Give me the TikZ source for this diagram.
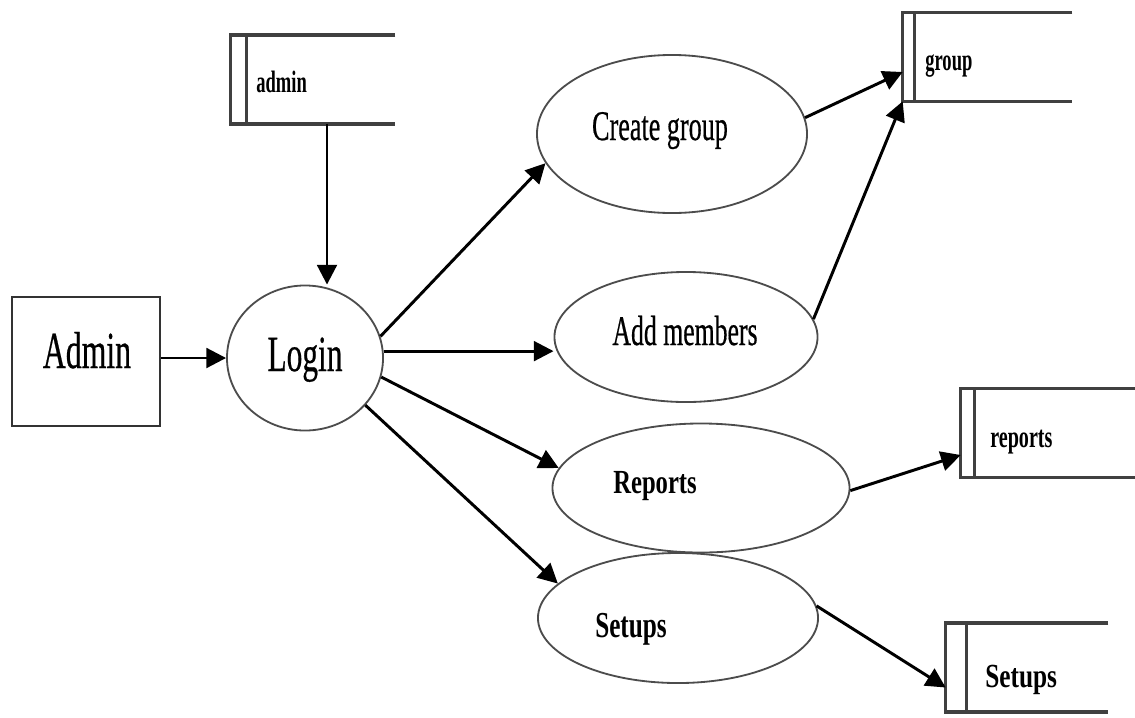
\documentclass[tikz,border=0pt]{standalone}
\usepackage{fontspec}
\setmainfont{Liberation Serif}
\newfontfamily\heavyserif[FakeBold=0.6]{Liberation Serif}
\usepackage{graphicx}
\usetikzlibrary{arrows.meta}
\usetikzlibrary{shapes.geometric}

\newcommand{\cnd}[2]{\scalebox{#1}[1]{#2}}

\tikzset{
  proc/.style={draw=black!70, line width=1.3pt, ellipse, inner sep=0pt},
  entity/.style={draw=black!80, line width=1.7pt, rectangle, inner sep=0pt},
  store/.style={rectangle, inner sep=0pt, minimum height=2.2cm},
  storeline/.style={draw=black!75, line width=2.5pt},
  flow/.style={draw=black, line width=2.1pt, -{Triangle[length=14pt,width=14pt]}},
  txt/.style={inner sep=0pt, anchor=base},
  stxt/.style={inner sep=0pt, anchor=base west, font=\fontsize{22}{24}\selectfont\bfseries},
}

\begin{document}
\begin{tikzpicture}[x=0.025cm, y=-0.025cm]
  \useasboundingbox (0,0) rectangle (1135,717);

  % external entity and processes
  \node[entity, minimum width=3.7cm, minimum height=3.225cm] (admin) at (86,361.5) {};
  \node[proc, minimum width=3.9cm, minimum height=3.625cm] (login) at (305,358) {};
  \node[proc, minimum width=6.75cm, minimum height=3.95cm] (create) at (672,134) {};
  \node[proc, minimum width=6.575cm, minimum height=3.25cm] (addmem) at (686,337) {};
  \node[proc, minimum width=7.425cm, minimum height=3.225cm] (reports) at (701,488) {};
  \node[proc, minimum width=7.0cm, minimum height=3.25cm] (setups) at (678,618) {};

  \node[txt, font=\fontsize{37}{40}\heavyserif] (admintxt) at (87,368) {\cnd{0.61}{Admin}};
  \node[txt, font=\fontsize{36}{40}\heavyserif] (logintxt) at (305,371) {\cnd{0.62}{Login}};
  \node[txt, font=\fontsize{30}{34}\heavyserif] (createtxt) at (660,140) {\cnd{0.62}{Create group}};
  \node[txt, font=\fontsize{30}{34}\heavyserif] (addmemtxt) at (685,345) {\cnd{0.61}{Add members}};
  \node[txt, font=\fontsize{24}{28}\selectfont\bfseries] (reportstxt) at (655,493) {\cnd{0.73}{Reports}};
  \node[txt, font=\fontsize{26}{28}\selectfont\bfseries] (setupstxt) at (631,637) {\cnd{0.69}{Setups}};

  % data stores
  \node[store, minimum width=4.1cm] (adminst) at (313,79.5) {};
  \node[store, minimum width=4.225cm] (grpst) at (987.5,57) {};
  \node[store, minimum width=4.35cm] (repst) at (1048,433) {};
  \node[store, minimum width=4.05cm] (setst) at (1027,667.5) {};
  \foreach \s/\d in {adminst/0.4cm,grpst/0.3cm,repst/0.35cm,setst/0.525cm}{%
    \draw[storeline] (\s.north east) -- (\s.north west) -- (\s.south west) -- (\s.south east);
    \draw[storeline] ([xshift=\d]\s.north west) -- ([xshift=\d]\s.south west);
  }

  \node[stxt] (adminsttxt) at (256,92) {\cnd{0.6}{admin}};
  \node[stxt] (grpsttxt) at (925,70) {\cnd{0.6}{group}};
  \node[stxt] (repsttxt) at (990,447) {\cnd{0.65}{reports}};
  \node[stxt, font=\fontsize{24}{28}\selectfont\bfseries] (setsttxt) at (985,687) {\cnd{0.75}{Setups}};

  % data flows
  \draw[flow] (admin.east |- login.west) -- (login.west);
  \draw[flow] ([xshift=0.35cm]adminst.south) -- ([xshift=0.35cm]adminst.south |- login.north);
  \draw[flow] (login.16) -- (create.193);
  \draw[flow] (login.5) -- (login.5 -| addmem.west);
  \draw[flow] (login.-14) -- (reports.172);
  \draw[flow] (login.-38) -- (setups.164);
  \draw[flow] (create.7) -- ([yshift=-0.375cm]grpst.west);
  \draw[flow] (addmem.8) -- (grpst.south west);
  \draw[flow] (reports.-1) -- ([yshift=-0.55cm]repst.west);
  \draw[flow] (setups.5) -- ([yshift=-0.5cm]setst.west);
\end{tikzpicture}
\end{document}
